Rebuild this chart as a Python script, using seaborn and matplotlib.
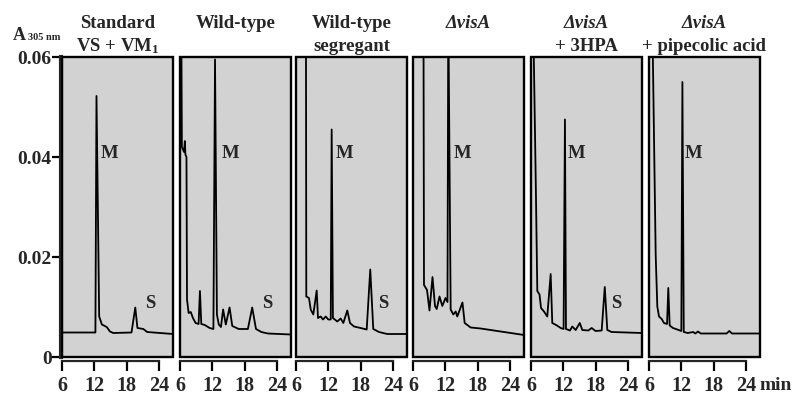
import matplotlib
matplotlib.use("Agg")
import matplotlib.pyplot as plt
import seaborn as sns
from matplotlib.patches import Rectangle

# --- chromatogram traces (time in min, absorbance at 305 nm) ---
t1 = [6.0, 12.2, 12.4, 12.9, 13.4, 14.3, 14.9, 15.5, 18.9, 19.6, 20.0, 21.1, 21.8, 26.6]
a1 = [0.0049, 0.0049, 0.0522, 0.0081, 0.0065, 0.0060, 0.0051, 0.0048, 0.0049, 0.0099,
      0.0058, 0.0056, 0.0050, 0.0046]

t2 = [6.25, 6.35, 6.75, 6.9, 7.0, 7.2, 7.3, 7.6, 8.0, 8.4, 8.9, 9.45, 9.7, 9.95, 10.6,
      11.5, 12.2, 12.5, 12.85, 13.2, 13.6, 14.0, 14.5, 15.2, 15.7, 16.9, 18.6, 19.4, 20.1,
      21.1, 22.3, 26.6]
a2 = [0.065, 0.0420, 0.0410, 0.0432, 0.0405, 0.0400, 0.0115, 0.0088, 0.0090, 0.0078,
      0.0068, 0.0066, 0.0132, 0.0066, 0.0064, 0.0058, 0.0056, 0.0595, 0.0085, 0.0065,
      0.0060, 0.0095, 0.0065, 0.0099, 0.0062, 0.0056, 0.0056, 0.0099, 0.0056, 0.0050,
      0.0047, 0.0045]

t3 = [7.85, 7.91, 8.41, 8.73, 9.21, 9.84, 10.08, 10.58, 11.01, 11.51, 11.99, 12.45, 12.62,
      12.85, 13.66, 14.29, 14.78, 15.52, 16.02, 16.76, 18.0, 19.12, 19.78, 20.34, 21.4,
      22.94, 26.6]
a3 = [0.065, 0.0121, 0.0118, 0.0095, 0.0085, 0.0133, 0.0078, 0.0081, 0.0075, 0.0081,
      0.0075, 0.0075, 0.0455, 0.0078, 0.0071, 0.0077, 0.0068, 0.0093, 0.0068, 0.0061,
      0.0058, 0.0055, 0.0175, 0.0056, 0.0050, 0.0046, 0.0046]

t4 = [7.95, 8.04, 8.6, 9.06, 9.62, 10.08, 10.4, 10.92, 11.44, 12.03, 12.4, 12.55, 12.99,
      13.48, 13.92, 14.22, 15.18, 15.59, 16.7, 18.56, 22.27, 26.6]
a4 = [0.065, 0.0144, 0.0134, 0.0093, 0.0160, 0.0102, 0.0096, 0.0121, 0.0102, 0.0118,
      0.0110, 0.070, 0.0095, 0.0085, 0.0091, 0.0081, 0.0109, 0.0068, 0.0059, 0.0057,
      0.0051, 0.0044]

t5 = [6.45, 6.9, 7.17, 7.58, 7.86, 8.41, 9.02, 9.65, 9.95, 10.82, 11.51, 12.05, 12.3,
      12.49, 13.24, 13.66, 14.29, 15.05, 15.52, 16.63, 17.26, 17.97, 19.12, 19.69, 20.16,
      20.97, 26.6]
a5 = [0.065, 0.0338, 0.0132, 0.0125, 0.0098, 0.0091, 0.0081, 0.0166, 0.0068, 0.0063,
      0.0058, 0.0056, 0.0475, 0.0056, 0.0053, 0.0061, 0.0054, 0.0068, 0.0054, 0.0053,
      0.0058, 0.0052, 0.0053, 0.0140, 0.0054, 0.0050, 0.0048]

t6 = [6.65, 7.24, 7.54, 7.86, 8.36, 8.78, 9.35, 9.58, 9.84, 10.45, 11.25, 12.0, 12.2,
      12.45, 13.2, 14.2, 14.6, 15.1, 15.6, 20.4, 20.9, 21.4, 26.6]
a6 = [0.065, 0.0205, 0.0101, 0.0081, 0.0076, 0.0068, 0.0066, 0.0138, 0.0063, 0.0058,
      0.0055, 0.0052, 0.0550, 0.0050, 0.0048, 0.0050, 0.0047, 0.0051, 0.0047, 0.0047,
      0.0052, 0.0047, 0.0047]

titles = [
    ("Standard", "VS + VM$_1$"),
    ("Wild-type", ""),
    ("Wild-type", "segregant"),
    ("\u0394visA", ""),
    ("\u0394visA", "+ 3HPA"),
    ("\u0394visA", "+ pipecolic acid"),
]
traces = [(t1, a1), (t2, a2), (t3, a3), (t4, a4), (t5, a5), (t6, a6)]

# peak labels: (time, absorbance) where M / S are written
m_labels = [(14.9, 0.0408), (15.3, 0.0408), (14.96, 0.0408), (15.28, 0.0408), (14.53, 0.0408), (14.35, 0.0408)]
s_labels = [(22.3, 0.0108), (22.1, 0.0108), (22.2, 0.0108), None, (21.9, 0.0108), None]

x_ticks = [6, 12, 18, 24]
y_ticks = [0, 0.02, 0.04, 0.06]
y_ticklabels = ["0", "0.02", "0.04", "0.06"]

sns.set_style("ticks")
plt.rcParams["font.family"] = ["Liberation Serif", "DejaVu Serif"]
plt.rcParams["font.weight"] = "bold"
plt.rcParams["mathtext.fontset"] = "custom"
plt.rcParams["mathtext.rm"] = "Liberation Serif:bold"
plt.rcParams["mathtext.it"] = "Liberation Serif:italic:bold"
plt.rcParams["mathtext.bf"] = "Liberation Serif:bold"
plt.rcParams["mathtext.default"] = "rm"

W, H = 795, 402
fig = plt.figure(figsize=(W / 100, H / 100), dpi=100)

lefts = [62, 180, 296, 413, 531, 649]
pw = 111
for i, (left, (tt, aa)) in enumerate(zip(lefts, traces)):
    ax = fig.add_axes([left / W, 44 / H, pw / W, 300 / H])
    ax.set_facecolor("#d2d2d2")
    sns.lineplot(x=tt, y=aa, ax=ax, color="black", lw=1.3, sort=False, estimator=None)
    ax.set_xlim(6, 26.6)
    ax.set_ylim(0, 0.06)
    ax.add_patch(Rectangle((0, 0), 1, 1, transform=ax.transAxes, fill=False,
                           lw=1.7, ec="black", clip_on=False, zorder=5))

    for side in ["top", "right"]:
        ax.spines[side].set_visible(False)
    ax.spines["bottom"].set_position(("outward", 3))
    ax.spines["bottom"].set_bounds(6, 24)
    ax.spines["bottom"].set_linewidth(1.6)
    ax.set_xticks(x_ticks)
    ax.set_xticklabels([str(v) for v in x_ticks])
    ax.tick_params(axis="x", direction="out", length=7.2, width=1.6, pad=2.5,
                   labelsize=14.5, color="black")

    if i == 0:
        ax.spines["left"].set_position(("outward", 0.5))
        ax.spines["left"].set_linewidth(3.0)
        ax.set_yticks(y_ticks)
        ax.set_yticklabels(y_ticklabels)
        ax.tick_params(axis="y", direction="out", length=6.5, width=1.6, pad=0.5,
                       labelsize=14, color="black")
    else:
        ax.spines["left"].set_visible(False)
        ax.set_yticks([])

    mx, my = m_labels[i]
    ax.text(mx, my, "M", ha="center", va="center", fontsize=13.5, fontweight="bold")
    if s_labels[i] is not None:
        sx, sy = s_labels[i]
        ax.text(sx, sy, "S", ha="center", va="center", fontsize=13.5, fontweight="bold")
    ax.set_xlabel("")
    ax.set_ylabel("")

    cx = (left + pw / 2) / W
    line1, line2 = titles[i]
    style = "italic" if line1.startswith("\u0394") else "normal"
    fig.text(cx, 1 - 28 / H, line1, ha="center", va="baseline", fontsize=13.5,
             fontweight="bold", style=style)
    if line2:
        fig.text(cx, 1 - 51 / H, line2, ha="center", va="baseline", fontsize=13.5,
                 fontweight="bold")

fig.text(13 / W, 1 - 40 / H, "A", ha="left", va="baseline", fontsize=13, fontweight="bold")
fig.text(28 / W, 1 - 40 / H, "305 nm", ha="left", va="baseline", fontsize=7.5, fontweight="bold")
fig.text(759 / W, 1 - 390 / H, "min", ha="left", va="baseline", fontsize=14, fontweight="bold")

fig.savefig("out.png", dpi=100)
plt.close(fig)
